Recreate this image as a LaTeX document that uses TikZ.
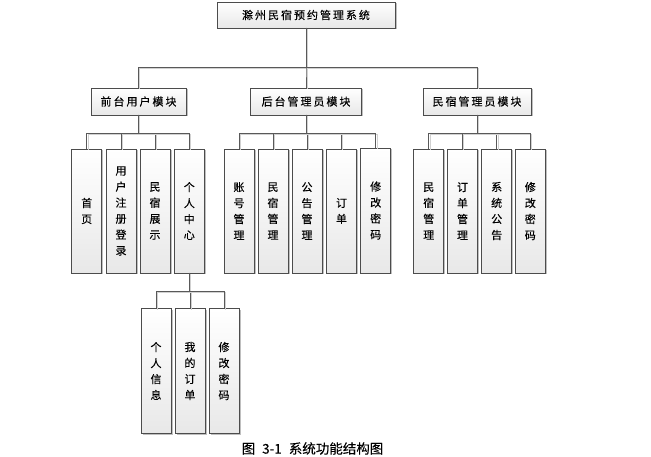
\documentclass[tikz,border=0pt]{standalone}
\usepackage{fontspec}
\newfontfamily\cjk[FakeBold=0.2]{Noto Sans CJK SC}
\newfontfamily\cjkwide[LetterSpace=18,FakeBold=0.2]{Noto Sans CJK SC}
\usetikzlibrary{shadows}

\begin{document}
\begin{tikzpicture}[x=1pt,y=-1pt,
    box/.style={draw=black!70,line width=0.7pt,top color=white,bottom color=black!9,
      drop shadow={shadow xshift=1.5pt,shadow yshift=-1.5pt,fill=black!25,opacity=1},
      inner sep=0pt,outer sep=0pt},
    headbox/.style={box,minimum height=27pt,font=\cjkwide\fontsize{11}{13}\selectfont},
    leafbox/.style={box,minimum width=30pt,minimum height=124pt,align=center,
      font=\cjk\fontsize{11}{16}\selectfont},
    link/.style={draw=black!65,line width=0.7pt,
      preaction={draw=black!18,line width=0.7pt,transform canvas={shift={(1.3pt,-1.3pt)}}}}]
      % \draw[help lines](0,0) grid[step=50] (651,457);
      \useasboundingbox[fill=white] (0,0) rectangle (651,457);

      \draw (306,15) node[headbox,minimum width=178pt,minimum height=26pt] (system) {滁州民宿预约管理系统};
      \draw (138.5,101.5) node[headbox,minimum width=95pt] (front) {前台用户模块};
      \draw (306,101.5) node[headbox,minimum width=111pt] (back) {后台管理员模块};
      \draw (477,101.5) node[headbox,minimum width=108pt] (host) {民宿管理员模块};

      \draw (86.7,211) node[leafbox] (home) {首\\页};
      \draw (121,211) node[leafbox] (register) {用\\户\\注\\册\\登\\录};
      \draw (155,211) node[leafbox] (show) {民\\宿\\展\\示};
      \draw (189.3,211) node[leafbox] (center) {个\\人\\中\\心};

      \draw (239,211) node[leafbox] (account) {账\\号\\管\\理};
      \draw (273,211) node[leafbox] (stay) {民\\宿\\管\\理};
      \draw (307,211) node[leafbox] (notice) {公\\告\\管\\理};
      \draw (341.5,211) node[leafbox] (order) {订\\单};
      \draw (375.7,210.5) node[leafbox,minimum height=125pt] (backpwd) {修\\改\\密\\码};

      \draw (428.7,211) node[leafbox] (hoststay) {民\\宿\\管\\理};
      \draw (462.5,211) node[leafbox] (hostorder) {订\\单\\管\\理};
      \draw (496.7,211) node[leafbox] (hostnotice) {系\\统\\公\\告};
      \draw (530.3,211) node[leafbox] (hostpwd) {修\\改\\密\\码};

      \draw (156,371) node[leafbox,minimum height=125pt] (info) {个\\人\\信\\息};
      \draw (190,371) node[leafbox,minimum height=125pt] (myorder) {我\\的\\订\\单};
      \draw (224,371) node[leafbox,minimum height=125pt] (pwd) {修\\改\\密\\码};

      \draw (312.5,448.5) node[font=\cjk\fontsize{13.5}{15}\selectfont] (caption) {图\hspace{7pt}3-1\hspace{7pt}系统功能结构图};

      \foreach \m in {front,back,host}
        \draw[link] (system.south) -- ++(0,39) -| (\m.north);
      \foreach \c in {home,register,show,center}
        \draw[link] (front.south) -- ++(0,18) -| (\c.north);
      \foreach \c in {account,stay,notice,order,backpwd}
        \draw[link] (back.south) -- ++(0,18) -| (\c.north);
      \foreach \c in {hoststay,hostorder,hostnotice,hostpwd}
        \draw[link] (host.south) -- ++(0,18) -| (\c.north);
      \foreach \c in {info,myorder,pwd}
        \draw[link] (center.south) -- ++(0,18.5) -| (\c.north);
    \end{tikzpicture}
\end{document}
